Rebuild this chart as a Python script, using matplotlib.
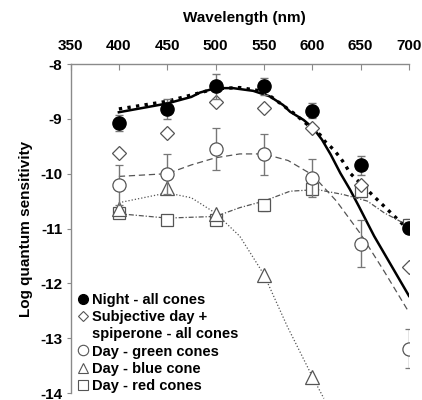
import matplotlib
matplotlib.use("Agg")
import matplotlib.pyplot as plt
from matplotlib.lines import Line2D

plt.rcParams['font.family'] = ['Liberation Sans', 'DejaVu Sans']
plt.rcParams['font.weight'] = 'bold'
plt.rcParams['axes.unicode_minus'] = False

# measured points (log quantum sensitivity)
wl = [400, 450, 500, 550, 600, 650, 700]
night = [-9.08, -8.82, -8.41, -8.41, -8.85, -9.85, -10.99]
night_err = [0.15, 0.19, 0.23, 0.16, 0.13, 0.18, 0.10]
subj_day = [-9.62, -9.26, -8.70, -8.81, -9.16, -10.20, -11.70]
green = [-10.21, -10.01, -9.55, -9.65, -10.08, -11.28, -13.19]
green_err = [0.36, 0.36, 0.38, 0.38, 0.35, 0.43, 0.35]
wl_blue = [400, 450, 500, 550, 600]
blue = [-10.65, -10.26, -10.73, -11.84, -13.70]
red = [-10.72, -10.85, -10.84, -10.58, -10.28, -10.32, -10.93]
red_err = [0.08, 0.0, 0.08, 0.10, 0.10, 0.10, 0.10]

# fitted curves
fit_night_wl = [400, 425, 450, 475, 484, 500, 518, 539, 556, 570, 577, 591,
                601, 610, 619, 629, 639, 648, 657, 664, 700]
fit_night = [-8.88, -8.80, -8.72, -8.60, -8.52, -8.44, -8.44, -8.49, -8.59,
             -8.75, -8.87, -9.02, -9.17, -9.38, -9.65, -9.99, -10.29, -10.59,
             -10.90, -11.14, -12.23]
fit_night2_wl = [400, 450, 500, 525, 550, 581, 598, 608, 613, 622, 629, 634,
                 639, 650, 667, 681, 694, 700]
fit_night2 = [-8.82, -8.68, -8.45, -8.43, -8.50, -8.90, -9.15, -9.29, -9.41,
              -9.56, -9.71, -9.84, -9.99, -10.18, -10.47, -10.71, -10.93, -11.02]
fit_green_wl = [400, 450, 475, 500, 525, 550, 575, 600, 625, 650, 675, 700]
fit_green = [-10.05, -10.00, -9.84, -9.71, -9.64, -9.64, -9.76, -10.02, -10.50,
             -11.10, -11.80, -12.53]
fit_blue_wl = [400, 450, 475, 500, 525, 550, 574, 600, 612]
fit_blue = [-10.53, -10.35, -10.44, -10.72, -11.14, -11.84, -12.78, -13.70, -14.10]
fit_red_wl = [400, 450, 500, 525, 550, 577, 605, 632, 657, 674, 691, 700]
fit_red = [-10.73, -10.81, -10.78, -10.62, -10.50, -10.32, -10.29, -10.38, -10.50,
           -10.71, -10.87, -10.95]

grey = '#555555'
axcol = '#8a8a8a'

fig = plt.figure(figsize=(4.22, 4.0), dpi=100)
ax = fig.add_axes([70.5 / 422, 7 / 400, 338.5 / 422, 329 / 400])

ax.plot(fit_night_wl, fit_night, color='black', lw=1.8, zorder=2)
ax.plot(fit_night2_wl, fit_night2, color='black', lw=2.4, ls=(0, (1.0, 1.6)), zorder=2)
ax.plot(fit_green_wl, fit_green, color=grey, lw=0.9, ls=(0, (5, 3)), zorder=2)
ax.plot(fit_blue_wl, fit_blue, color=grey, lw=0.9, ls=(0, (1, 1.6)), zorder=2,
        clip_on=False)
ax.plot(fit_red_wl, fit_red, color=grey, lw=0.9, ls=(0, (4, 1.5, 1, 1.5)), zorder=2)

ebkw = dict(ecolor='#777777', elinewidth=1, capsize=3, capthick=1, ls='none')
ax.errorbar(wl, red, yerr=red_err, marker='s', ms=9, mfc='white', mec=grey,
            mew=0.9, zorder=3, **ebkw)
ax.plot(wl_blue, blue, ls='none', marker='^', ms=10, mfc='white', mec=grey,
        mew=0.9, zorder=4)
ax.errorbar(wl, green, yerr=green_err, marker='o', ms=9.5, mfc='white', mec=grey,
            mew=0.9, zorder=4, **ebkw)
ax.plot(wl, subj_day, ls='none', marker='D', ms=7, mfc='white', mec=grey,
        mew=0.9, zorder=5)
ax.errorbar(wl, night, yerr=night_err, marker='o', ms=9.5, mfc='black', mec='black',
            zorder=6, **ebkw)

ax.set_xlim(350, 700)
ax.set_ylim(-14, -8)
ax.set_xticks(range(350, 701, 50))
ax.set_yticks(range(-14, -7))
ax.xaxis.tick_top()
ax.xaxis.set_label_position('top')
for s in ['bottom', 'right']:
    ax.spines[s].set_visible(False)
for s in ['top', 'left']:
    ax.spines[s].set_color(axcol)
    ax.spines[s].set_linewidth(1)
ax.tick_params(axis='x', direction='in', length=4, color=axcol, pad=8,
               labelsize=11)
ax.tick_params(axis='y', direction='out', length=3, color=axcol, pad=3,
               labelsize=11)
for lab in ax.get_xticklabels() + ax.get_yticklabels():
    lab.set_fontweight('bold')

ax.set_xlabel('Wavelength (nm)', fontsize=11, fontweight='bold', labelpad=12)
ax.xaxis.set_label_coords(0.513, 1.0 + 42 / 329)
ax.set_ylabel('Log quantum sensitivity', fontsize=11, fontweight='bold', labelpad=5)

handles = [
    Line2D([], [], ls='none', marker='o', ms=7, mfc='black', mec='black'),
    Line2D([], [], ls='none', marker='D', ms=5.5, mfc='white', mec=grey, mew=0.8),
    Line2D([], [], ls='none', marker=None),
    Line2D([], [], ls='none', marker='o', ms=7.5, mfc='white', mec=grey, mew=0.8),
    Line2D([], [], ls='none', marker='^', ms=7.5, mfc='white', mec=grey, mew=0.8),
    Line2D([], [], ls='none', marker='s', ms=7, mfc='white', mec=grey, mew=0.8),
]
labels = ['Night - all cones', 'Subjective day +', 'spiperone - all cones',
          'Day - green cones', 'Day - blue cone', 'Day - red cones']
leg = ax.legend(handles, labels, loc='lower left', bbox_to_anchor=(0.022, 0.0),
                frameon=False, handlelength=0.7, handletextpad=0.25,
                labelspacing=0.22, borderpad=0, borderaxespad=0,
                prop={'family': 'Liberation Sans', 'weight': 'bold', 'size': 10.5})

fig.savefig('out.png', dpi=100)
